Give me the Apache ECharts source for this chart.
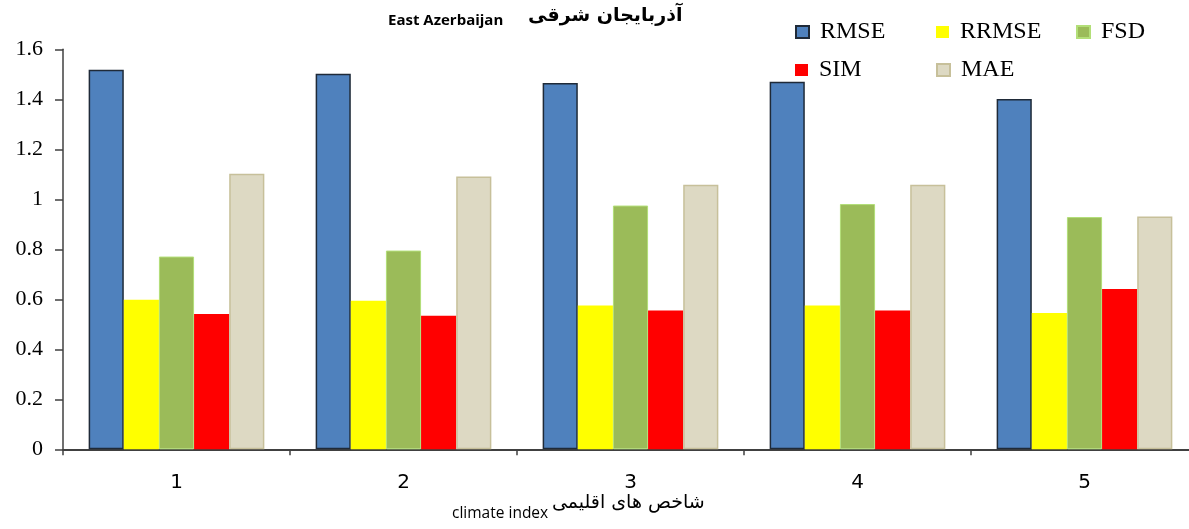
<!DOCTYPE html>
<html>
<head>
<meta charset="utf-8">
<title>East Azerbaijan</title>
<script src="https://cdn.jsdelivr.net/npm/echarts@6/dist/echarts.min.js"></script>
<style>
	html, body { margin: 0; padding: 0; background: #fff; }
	#main { width: 1189px; height: 529px; }
</style>
</head>
<body>
<div id="main"></div>
<script>
// 数据
var categories = ['1', '2', '3', '4', '5'];
var yTicks = [0, 0.2, 0.4, 0.6, 0.8, 1, 1.2, 1.4, 1.6];
var seriesNames = ['RMSE', 'RRMSE', 'FSD', 'SIM', 'MAE'];
var rmse  = [1.518, 1.502, 1.465, 1.470, 1.401];
var rrmse = [0.598, 0.594, 0.575, 0.575, 0.545];
var fsd   = [0.771, 0.795, 0.975, 0.981, 0.929];
var sim   = [0.541, 0.534, 0.555, 0.555, 0.641];
var mae   = [1.102, 1.091, 1.058, 1.058, 0.931];

var serif = '"Liberation Serif", "DejaVu Serif", serif';
var sans = '"DejaVu Sans", "Noto Sans", sans-serif';

function bar(name, data, color, border, borderWidth){
	return {
		name: name,
		type: 'bar',
		data: data,
		barGap: 0,
		barCategoryGap: '22.6%',
		itemStyle: {
			color: color,
			borderColor: border,
			borderWidth: borderWidth
		},
		emphasis: { disabled: true }
	};
}

// 图例，每项单独定位
function legendItem(name, left, top){
	return {
		data: [name],
		left: left,
		top: top,
		icon: 'rect',
		itemWidth: 13,
		itemHeight: 12,
		itemGap: 0,
		padding: 0,
		selectedMode: false,
		textStyle: { fontFamily: serif, fontSize: 24, color: '#000', padding: [2, 0, 0, 6] }
	};
}

var chart = echarts.init(document.getElementById('main'));
var option = {
	animation: false,
	grid: { left: 63, top: 49.3, right: -9, bottom: 79.7, containLabel: false, outerBoundsMode: 'none' },
	legend: [
		legendItem(seriesNames[0], 795, 20),
		legendItem(seriesNames[1], 936, 20),
		legendItem(seriesNames[2], 1076, 20),
		legendItem(seriesNames[3], 795, 58),
		legendItem(seriesNames[4], 936, 58)
	],
	xAxis: {
		type: 'category',
		data: categories,
		axisLine: { lineStyle: { color: '#404040', width: 2 } },
		axisTick: { show: true, length: 6, lineStyle: { color: '#404040', width: 1.5 } },
		axisLabel: { fontFamily: sans, fontSize: 20, color: '#000', margin: 23 },
		splitLine: { show: false }
	},
	yAxis: {
		type: 'value',
		min: yTicks[0],
		max: yTicks[yTicks.length - 1],
		interval: 0.2,
		axisLine: { show: true, lineStyle: { color: '#404040', width: 1.5 } },
		axisTick: { show: true, length: 8, lineStyle: { color: '#404040', width: 1.5 } },
		axisLabel: {
			fontFamily: serif, fontSize: 22, color: '#000', margin: 20,
			formatter: function(v){ return String(Math.round(v * 10) / 10); }
		},
		splitLine: { show: false }
	},
	series: [
		bar(seriesNames[0], rmse,  '#4f81bd', '#1f2a38', 1.5),
		bar(seriesNames[1], rrmse, '#ffff00', '#ffff00', 0),
		bar(seriesNames[2], fsd,   '#9bbb59', '#b3df78', 1),
		bar(seriesNames[3], sim,   '#ff0000', '#ff0000', 0),
		bar(seriesNames[4], mae,   '#ddd9c3', '#c7c09a', 1.5)
	],
	graphic: [
		{ type: 'text', left: 388, top: 13, style: { text: 'East Azerbaijan', fontFamily: '"Open Sans", "Noto Sans", sans-serif', fontWeight: 'bold', fontSize: 15, fill: '#000' } },
		{ type: 'text', left: 528, top: 7, style: { text: 'آذربایجان شرقی', fontFamily: sans, fontWeight: 'bold', fontSize: 19, fill: '#000' } },
		{ type: 'text', left: 452, top: 506, style: { text: 'climate index', fontFamily: '"Open Sans", "Noto Sans", sans-serif', fontSize: 15.5, fill: '#000' } },
		{ type: 'text', left: 552, top: 494, style: { text: 'شاخص های اقلیمی', fontFamily: sans, fontSize: 19, fill: '#000' } }
	]
};
chart.setOption(option);
</script>
</body>
</html>
